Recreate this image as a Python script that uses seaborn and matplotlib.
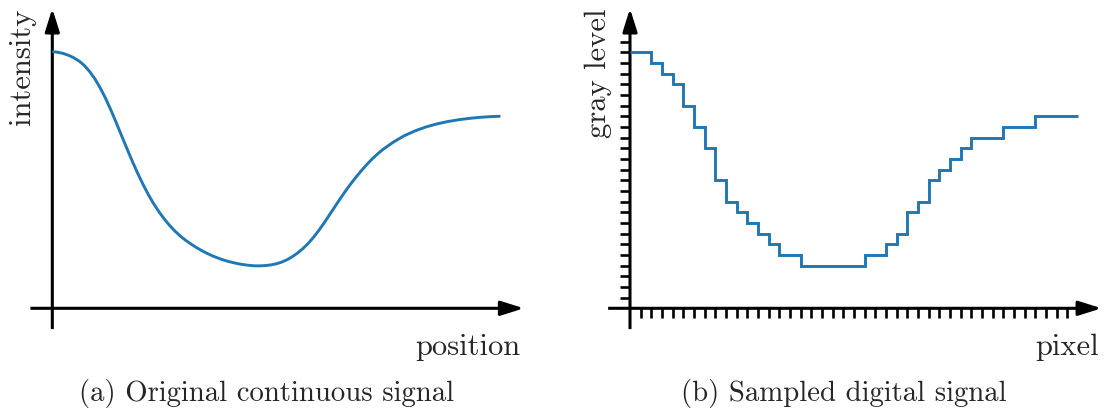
import numpy as np
import pandas as pd
import matplotlib
matplotlib.use("Agg")
import matplotlib.pyplot as plt
import seaborn as sns

# ---------------- data ----------------
# (a) continuous signal (position units, intensity units)
position = [0.0, 0.5, 1.0, 1.5, 2.0, 2.5, 3.0, 3.5, 4.0, 4.5,
            5.0, 5.5, 6.0, 6.5, 7.0, 7.5, 8.0, 8.5, 9.0, 9.5,
            10.0, 10.5, 11.0, 11.5, 12.0, 12.5, 13.0, 13.5, 14.0, 14.5,
            15.0, 15.5, 16.0, 16.5, 17.0, 17.5, 18.0, 18.5, 19.0, 19.5,
            20.0, 20.5, 21.0, 21.5, 22.0, 22.5, 23.0, 23.5, 24.0, 24.5,
            25.0, 25.5, 26.0, 26.5, 27.0, 27.5, 28.0, 28.5, 29.0, 29.5,
            30.0, 30.5, 31.0, 32.0, 33.0, 34.0, 35.0, 36.0, 37.0, 38.0,
            39.0, 40.0, 41.0, 42.0]
intensity = [24.05, 24.00, 23.89, 23.72, 23.49, 23.18, 22.76, 22.19, 21.49, 20.64,
             19.66, 18.56, 17.38, 16.16, 14.96, 13.78, 12.66, 11.62, 10.66, 9.80,
             9.04, 8.36, 7.76, 7.23, 6.77, 6.37, 6.02, 5.70, 5.41, 5.15,
             4.92, 4.72, 4.54, 4.39, 4.27, 4.16, 4.08, 4.02, 3.98, 3.98,
             4.01, 4.07, 4.17, 4.33, 4.55, 4.84, 5.19, 5.61, 6.10, 6.68,
             7.33, 8.04, 8.79, 9.55, 10.30, 11.02, 11.70, 12.34, 12.94, 13.50,
             14.02, 14.48, 14.90, 15.60, 16.18, 16.63, 16.99, 17.27, 17.49, 17.66,
             17.79, 17.89, 17.96, 18.00]

# (b) sampled digital signal: one gray level per pixel
gray_level = [24, 24, 23, 22, 21, 19, 17, 15, 12, 10, 9, 8, 7, 6, 5, 5,
              4, 4, 4, 4, 4, 4, 5, 5, 6, 7, 9, 10, 12, 13, 14, 15,
              16, 16, 16, 17, 17, 17, 18, 18, 18, 18]

pixel_ticks = list(range(1, 42))
level_ticks = list(range(1, 26))

xlabels = ["position", "pixel"]
ylabels = ["intensity", "gray level"]
captions = ["(a) Original continuous signal", "(b) Sampled digital signal"]

# ---------------- style ----------------
sns.set_style("white")
plt.rcParams["font.family"] = ["cmr10", "DejaVu Serif"]
plt.rcParams["axes.formatter.use_mathtext"] = True

W, H, DPI = 1108, 409, 100
fig = plt.figure(figsize=(W / DPI, H / DPI), dpi=DPI)

UNIT = 10.67          # pixels per data unit
ORIG_Y = 308.3        # pixel row of the x axis
ORIGINS_X = [52.3, 630.0]
XLIM = (-2.5, 45.0)
YLIM = (-2.5, 28.5)

BLUE = "#1f77b4"


def fx(px):
    return px / W


def fy(py):
    return 1 - py / H


axes = []
for ox in ORIGINS_X:
    left = ox + XLIM[0] * UNIT
    bottom = ORIG_Y - YLIM[0] * UNIT
    w = (XLIM[1] - XLIM[0]) * UNIT
    h = (YLIM[1] - YLIM[0]) * UNIT
    ax = fig.add_axes([fx(left), fy(bottom), w / W, h / H])
    ax.set_xlim(*XLIM)
    ax.set_ylim(*YLIM)
    ax.patch.set_alpha(0)
    for s in ax.spines.values():
        s.set_color("none")
    ax.spines["left"].set_position(("data", 0))
    ax.spines["bottom"].set_position(("data", 0))
    axes.append(ax)

for ax in axes:
    arrow = dict(arrowstyle="-|>,head_length=14,head_width=4.4", mutation_scale=1,
                 lw=2.2, color="black", shrinkA=0, shrinkB=0, capstyle="butt")
    ax.annotate("", xy=(44.2, 0), xytext=(-2.05, 0), arrowprops=arrow,
                annotation_clip=False, zorder=3)
    ax.annotate("", xy=(0, 28.1), xytext=(0, -1.95), arrowprops=arrow,
                annotation_clip=False, zorder=3)

# (a) continuous curve
df_a = pd.DataFrame({"position": position, "intensity": intensity})
sns.lineplot(data=df_a, x="position", y="intensity", ax=axes[0], color=BLUE,
             lw=2.1, sort=False, estimator=None, solid_capstyle="butt",
             solid_joinstyle="round", zorder=4)
axes[0].set_xticks([])
axes[0].set_yticks([])

# (b) stepped signal
edges = list(range(len(gray_level) + 1))
df_b = pd.DataFrame({"pixel": edges, "gray": gray_level + [gray_level[-1]]})
sns.lineplot(data=df_b, x="pixel", y="gray", ax=axes[1], color=BLUE, lw=2.1,
             sort=False, estimator=None, drawstyle="steps-post",
             solid_capstyle="butt", solid_joinstyle="miter", zorder=4)
axes[1].set_xticks(pixel_ticks)
axes[1].set_yticks(level_ticks)
axes[1].tick_params(axis="both", which="major", direction="out", length=7.5,
                    width=1.9, color="black", bottom=True, left=True,
                    top=False, right=False, labelbottom=False, labelleft=False)

for ax in axes:
    ax.set_xlabel("")
    ax.set_ylabel("")

# text
for i, ox in enumerate(ORIGINS_X):
    fig.text(fx(ox + 468.5), fy(355), xlabels[i], ha="right", va="baseline",
             fontsize=22)
    fig.text(fx(ox - 30.5 + (0 if i == 0 else -1)), fy(8.5), ylabels[i],
             rotation=90, ha="center", va="top", fontsize=22)
    fig.text(fx(ox + 214.2), fy(400.5), captions[i], ha="center", va="baseline",
             fontsize=20.7)

fig.savefig("out.png", dpi=DPI)
